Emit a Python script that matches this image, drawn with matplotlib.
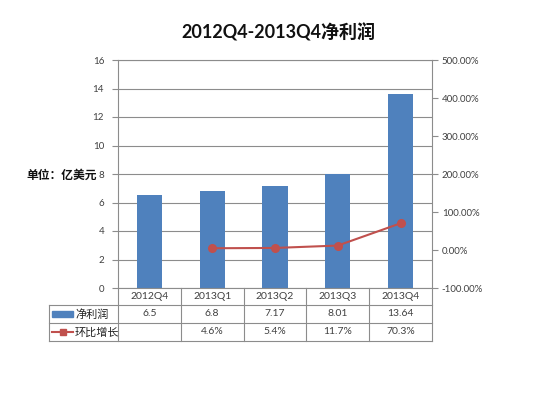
import numpy as np
import matplotlib
matplotlib.use('Agg')
import matplotlib.pyplot as plt
from matplotlib.patches import Rectangle
from matplotlib.lines import Line2D
from matplotlib.ticker import FuncFormatter

plt.rcParams['font.family'] = ['Lato', 'Noto Sans CJK SC', 'DejaVu Sans']

quarters = ['2012Q4', '2013Q1', '2013Q2', '2013Q3', '2013Q4']
profit = [6.5, 6.8, 7.17, 8.01, 13.64]          # 亿美元
growth = [np.nan, 4.6, 5.4, 11.7, 70.3]         # %
profit_labels = ['6.5', '6.8', '7.17', '8.01', '13.64']
growth_labels = ['', '4.6%', '5.4%', '11.7%', '70.3%']
series_names = ['净利润', '环比增长']

BLUE = '#4F81BD'
RED = '#C0504D'
GRID = '#8c8c8c'
TXT = '#404040'

W, H = 560, 405
fig = plt.figure(figsize=(W / 100, H / 100), dpi=100)
ax_l, ax_r, ax_t, ax_b = 118, 432, 60, 288
ax = fig.add_axes([ax_l / W, 1 - ax_b / H, (ax_r - ax_l) / W, (ax_b - ax_t) / H])

x = np.arange(len(quarters))
ax.bar(x, profit, width=0.4, color=BLUE, zorder=2)
ax.set_xlim(-0.5, len(quarters) - 0.5)
ax.set_ylim(0, 16)
ax.set_yticks(np.arange(0, 17, 2))
ax.set_xticks([])
ax.yaxis.grid(True, color=GRID, lw=0.8)
ax.set_axisbelow(True)
for s in ['left', 'top', 'bottom']:
    ax.spines[s].set_color(GRID)
    ax.spines[s].set_linewidth(0.8)
ax.spines['right'].set_visible(False)
ax.tick_params(axis='y', labelsize=7, colors=TXT, length=4, width=0.8, pad=6)
ax.tick_params(axis='y', color=GRID)

ax2 = ax.twinx()
ax2.plot(x, growth, color=RED, lw=1.5, marker='o', ms=5.5, zorder=3)
ax2.set_ylim(-100, 500)
ax2.set_yticks(np.arange(-100, 501, 100))
ax2.yaxis.set_major_formatter(FuncFormatter(lambda v, p: f'{v:.2f}%'))
for s in ['left', 'top', 'bottom']:
    ax2.spines[s].set_visible(False)
ax2.spines['right'].set_color(GRID)
ax2.spines['right'].set_linewidth(0.8)
ax2.tick_params(axis='y', labelsize=7, colors=TXT, length=4, width=0.8, pad=3)
ax2.tick_params(axis='y', color=GRID)

# data table below the plot
tr = ax.get_xaxis_transform()
ph = ax_b - ax_t
cat_w = (ax_r - ax_l) / len(quarters)
rows = [0, -17 / ph, -35 / ph, -53 / ph]
x_left = -0.5 - (ax_l - 49) / cat_w
x_right = len(quarters) - 0.5


def hline(x0, x1, y):
    ax.add_line(Line2D([x0, x1], [y, y], transform=tr, color=GRID, lw=0.8, clip_on=False))


def vline(xv, y0, y1):
    ax.add_line(Line2D([xv, xv], [y0, y1], transform=tr, color=GRID, lw=0.8, clip_on=False))


for yv in rows[1:]:
    hline(x_left, x_right, yv)
vline(x_left, rows[1], rows[3])
for k in range(len(quarters) + 1):
    vline(k - 0.5, rows[0], rows[3])

mids = [(rows[i] + rows[i + 1]) / 2 for i in range(3)]
for i, q in enumerate(quarters):
    ax.text(i, mids[0], q, transform=tr, ha='center', va='center', fontsize=7.5, color=TXT)
    ax.text(i, mids[1], profit_labels[i], transform=tr, ha='center', va='center', fontsize=7.5, color=TXT)
    ax.text(i, mids[2], growth_labels[i], transform=tr, ha='center', va='center', fontsize=7.5, color=TXT)

key_x0 = -0.5 - (ax_l - 52) / cat_w
key_x1 = -0.5 - (ax_l - 73) / cat_w
lab_x = -0.5 - (ax_l - 75) / cat_w
kh = 6 / ph
ax.add_patch(Rectangle((key_x0, mids[1] - kh / 2), key_x1 - key_x0, kh,
                       transform=tr, color=BLUE, clip_on=False))
ax.add_line(Line2D([key_x0, key_x1], [mids[2], mids[2]], transform=tr, color=RED, lw=1.5, clip_on=False))
ax.add_line(Line2D([(key_x0 + key_x1) / 2], [mids[2]], transform=tr, color=RED, marker='s', ms=4,
                   clip_on=False))
ax.text(lab_x, mids[1], series_names[0], transform=tr, ha='left', va='center', fontsize=8, color='#222222')
ax.text(lab_x, mids[2], series_names[1], transform=tr, ha='left', va='center', fontsize=8, color='#222222')

fig.text(0.497, 1 - 32 / H, '2012Q4-2013Q4净利润', ha='center', va='center',
         fontsize=13, fontweight='bold', color='#111111')
fig.text(97 / W, 1 - 175 / H, '单位：亿美元', ha='right', va='center',
         fontsize=8.5, fontweight='bold', color='#111111')

fig.savefig('out.png', dpi=100)
